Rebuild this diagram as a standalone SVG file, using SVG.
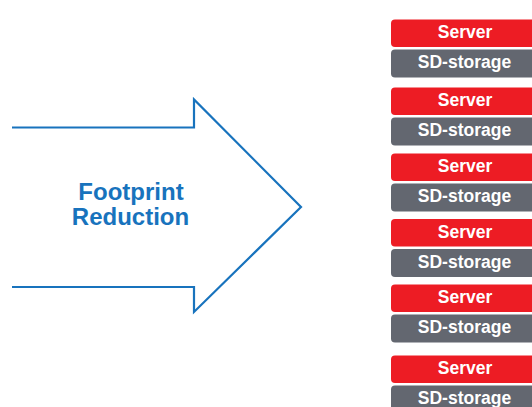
<svg xmlns="http://www.w3.org/2000/svg" width="532" height="407" viewBox="0 0 532 407">
<style>
.srv{fill:#ED1C24}
.sd{fill:#636770}
.lbl{font-family:"Liberation Sans",Arial,sans-serif;font-weight:bold;font-size:17.5px;fill:#fff;text-anchor:middle}
.big{font-family:"Liberation Sans",Arial,sans-serif;font-weight:bold;font-size:24px;fill:#1873BD;text-anchor:middle}
</style>
<rect width="532" height="407" fill="#fff"/>
<g id="connectors">
<path d="M12,127.5 H194 V99.5 L301,207 L194,312 V287 H12" fill="none" stroke="#1873BD" stroke-width="2.2" stroke-linejoin="miter"/>
</g>
<g id="arrow-label">
<text class="big" x="131" y="200">Footprint</text>
<text class="big" x="130.5" y="225">Reduction</text>
</g>
<g id="stack1">
<rect class="srv" x="391" y="19.5" width="150" height="27.5" rx="4"/>
<text class="lbl" x="465" y="38">Server</text>
<rect class="sd" x="391" y="49.5" width="150" height="28" rx="4"/>
<text class="lbl" x="464.5" y="68">SD-storage</text>
</g>
<g id="stack2">
<rect class="srv" x="391" y="87.5" width="150" height="27.5" rx="4"/>
<text class="lbl" x="465" y="106">Server</text>
<rect class="sd" x="391" y="117.5" width="150" height="28" rx="4"/>
<text class="lbl" x="464.5" y="136">SD-storage</text>
</g>
<g id="stack3">
<rect class="srv" x="391" y="153.5" width="150" height="27.5" rx="4"/>
<text class="lbl" x="465" y="172">Server</text>
<rect class="sd" x="391" y="183.5" width="150" height="28" rx="4"/>
<text class="lbl" x="464.5" y="202">SD-storage</text>
</g>
<g id="stack4">
<rect class="srv" x="391" y="219" width="150" height="27.5" rx="4"/>
<text class="lbl" x="465" y="237.5">Server</text>
<rect class="sd" x="391" y="249" width="150" height="28" rx="4"/>
<text class="lbl" x="464.5" y="267.5">SD-storage</text>
</g>
<g id="stack5">
<rect class="srv" x="391" y="284.5" width="150" height="27.5" rx="4"/>
<text class="lbl" x="465" y="303">Server</text>
<rect class="sd" x="391" y="314.5" width="150" height="28" rx="4"/>
<text class="lbl" x="464.5" y="333">SD-storage</text>
</g>
<g id="stack6">
<rect class="srv" x="391" y="355.5" width="150" height="27.5" rx="4"/>
<text class="lbl" x="465" y="374">Server</text>
<rect class="sd" x="391" y="385.5" width="150" height="28" rx="4"/>
<text class="lbl" x="464.5" y="404">SD-storage</text>
</g>
</svg>
